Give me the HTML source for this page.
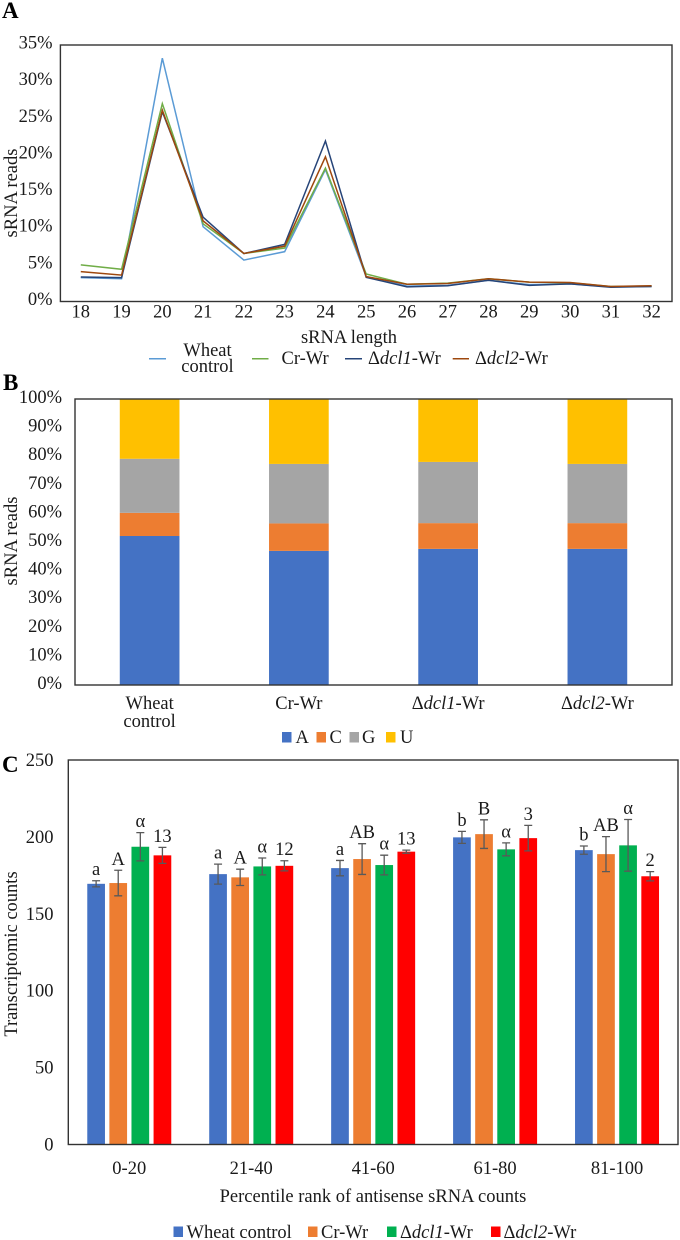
<!DOCTYPE html>
<html lang="en">
<head>
<meta charset="utf-8">
<title>sRNA charts</title>
<style>
html,body{margin:0;padding:0;background:#fff;}
body{width:680px;height:1240px;overflow:hidden;}
svg{display:block;}
text{font-family:"Liberation Serif","DejaVu Serif",serif;font-size:18.5px;fill:#1a1a1a;}
.panel{font-size:23px;font-weight:bold;fill:#000;}
.frame{fill:none;stroke:#333;stroke-width:1.4;}
</style>
</head>
<body>
<svg id="fig" xmlns="http://www.w3.org/2000/svg" width="680" height="1240" viewBox="0 0 680 1240">
  <rect x="0" y="0" width="680" height="1240" fill="#fff"/>

  <text class="panel" x="2" y="18">A</text>
  <text class="panel" x="3" y="390">B</text>
  <text class="panel" x="2" y="772">C</text>

  <g id="chartA"></g>
  <g id="chartB"></g>
  <g id="chartC"></g>

  <text x="349" y="343" text-anchor="middle">sRNA length</text>
  <text transform="translate(17,193) rotate(-90)" text-anchor="middle">sRNA reads</text>

  <g>
    <g>
      <line x1="149" y1="358.7" x2="166" y2="358.7" stroke="#5B9BD5" stroke-width="1.5"/>
      <text x="207.5" y="356" text-anchor="middle">Wheat</text>
      <text x="207.5" y="372" text-anchor="middle">control</text>
    </g>
    <g>
      <line x1="252" y1="358.7" x2="268.5" y2="358.7" stroke="#70AD47" stroke-width="1.5"/>
      <text x="281.5" y="364">Cr-Wr</text>
    </g>
    <g>
      <line x1="345" y1="358.7" x2="362" y2="358.7" stroke="#264478" stroke-width="1.5"/>
      <text x="368" y="364">Δ<tspan font-style="italic">dcl1</tspan>-Wr</text>
    </g>
    <g>
      <line x1="452.7" y1="358.7" x2="469" y2="358.7" stroke="#9E480E" stroke-width="1.5"/>
      <text x="475" y="364">Δ<tspan font-style="italic">dcl2</tspan>-Wr</text>
    </g>
  </g>

  <text transform="translate(17,541) rotate(-90)" text-anchor="middle">sRNA reads</text>

  <g>
    <rect x="282" y="732" width="9.5" height="10.5" fill="#4472C4"/>
    <text x="295.5" y="743">A</text>
    <rect x="316.5" y="732" width="9.5" height="10.5" fill="#ED7D31"/>
    <text x="329.5" y="743">C</text>
    <rect x="349.5" y="732" width="9.5" height="10.5" fill="#A5A5A5"/>
    <text x="362" y="743">G</text>
    <rect x="386" y="732" width="9.5" height="10.5" fill="#FFC000"/>
    <text x="400" y="743">U</text>
  </g>

  <text transform="translate(17,954) rotate(-90)" text-anchor="middle">Transcriptomic counts</text>
  <text x="373" y="1202" text-anchor="middle">Percentile rank of antisense sRNA counts</text>

  <g>
    <rect x="173.5" y="1226.5" width="9.5" height="10.5" fill="#4472C4"/>
    <text x="186.5" y="1238">Wheat control</text>
    <rect x="308" y="1226.5" width="9.5" height="10.5" fill="#ED7D31"/>
    <text x="321" y="1238">Cr-Wr</text>
    <rect x="387" y="1226.5" width="9.5" height="10.5" fill="#00B050"/>
    <text x="400" y="1238">Δ<tspan font-style="italic">dcl1</tspan>-Wr</text>
    <rect x="491" y="1226.5" width="9.5" height="10.5" fill="#FF0000"/>
    <text x="503.5" y="1238">Δ<tspan font-style="italic">dcl2</tspan>-Wr</text>
  </g>
</svg>

<script>
// ---- Chart A data ----
const lengths = ['18','19','20','21','22','23','24','25','26','27','28','29','30','31','32'];
const aTicks = [0,5,10,15,20,25,30,35];
const aWheat = [3.25,3.1,33.2,10.2,5.65,6.8,18.0,3.4,2.1,2.2,2.9,2.3,2.4,2.0,2.05];
const aCr    = [5.0,4.4,27.0,10.6,6.55,7.3,18.2,3.75,2.35,2.5,3.1,2.65,2.55,2.05,2.1];
const aDcl1  = [3.35,3.25,25.9,11.5,6.55,7.8,21.9,3.3,2.0,2.15,2.9,2.2,2.4,1.95,2.05];
const aDcl2  = [4.07,3.6,26.1,11.0,6.55,7.55,19.75,3.4,2.35,2.45,3.1,2.65,2.6,2.05,2.15];

// ---- Chart B data ----
const bCategories = ['Wheat control','Cr-Wr','Δdcl1-Wr','Δdcl2-Wr'];
const bTicks = [0,10,20,30,40,50,60,70,80,90,100];
const bA = [52.1,46.9,47.6,47.6];
const bC = [8.1,9.6,9.0,9.0];
const bG = [18.9,20.8,21.4,20.7];
const bU = [20.9,22.7,22.0,22.7];

// ---- Chart C data ----
const cCategories = ['0-20','21-40','41-60','61-80','81-100'];
const cTicks = [0,50,100,150,200,250];
const cWheat = [169.5,175.8,179.7,199.7,191.4];
const cCr    = [170,173.7,185.6,201.8,188.8];
const cDcl1  = [193.6,180.8,181.7,191.9,194.5];
const cDcl2  = [188,181.2,190.4,199.2,174.4];
const cWheatErr = [2,6.5,5,3.9,2.7];
const cCrErr    = [8.3,5.3,10,9.3,11.4];
const cDcl1Err  = [9.2,5.5,6.4,4.2,16.8];
const cDcl2Err  = [5.2,3.3,1,8.3,3];
const cWheatSig = ['a','a','a','b','b'];
const cCrSig    = ['A','A','AB','B','AB'];
const cDcl1Sig  = ['α','α','α','α','α'];
const cDcl2Sig  = ['13','12','13','3','2'];

const NS = 'http://www.w3.org/2000/svg';
function make(parent, tag, attrs, txt) {
  const el = document.createElementNS(NS, tag);
  for (const k in attrs) el.setAttribute(k, attrs[k]);
  if (txt !== undefined) el.textContent = txt;
  parent.appendChild(el);
  return el;
}
function slug(s) {
  return String(s).toLowerCase().replace(/[^a-z0-9]+/g, '-').replace(/^-|-$/g, '');
}

// ---------- Chart A ----------
(function () {
  const g = document.getElementById('chartA');
  const L = 60.4, R = 672, T = 45, B = 301.5;
  const x = i => L + (R - L) * (i + 0.5) / lengths.length;
  const y = v => B - (B - T) * v / 35;

  const frame = make(g, 'rect', {x: L, y: T, width: R - L, height: B - T, class: 'frame'});
  
  

  aTicks.forEach(t => {
    const el = make(g, 'text', {x: 52.5, y: y(t) + 3.5, 'text-anchor': 'end'}, t + '%');
    
    
  });
  lengths.forEach((c, i) => {
    const el = make(g, 'text', {x: x(i), y: 317.5, 'text-anchor': 'middle'}, c);
    
    
  });

  const series = [
    ['wheat-control', aWheat, '#5B9BD5'],
    ['cr-wr', aCr, '#70AD47'],
    ['dcl1-wr', aDcl1, '#264478'],
    ['dcl2-wr', aDcl2, '#9E480E']
  ];
  series.forEach(s => {
    const pts = s[1].map((v, i) => x(i).toFixed(2) + ',' + y(v).toFixed(2)).join(' ');
    const el = make(g, 'polyline', {points: pts, fill: 'none', stroke: s[2], 'stroke-width': 1.5, 'stroke-linejoin': 'miter'});
    
    
  });
})();

// ---------- Chart B ----------
(function () {
  const g = document.getElementById('chartB');
  const L = 75, R = 672, T = 399, B = 685;
  const band = (R - L) / bCategories.length;
  const bw = band / 2.5;
  const cx = i => L + band * (i + 0.5);
  const y = v => B - (B - T) * v / 100;

  bTicks.forEach(t => {
    const el = make(g, 'text', {x: 62, y: y(t) + 4, 'text-anchor': 'end'}, t + '%');
    
    
  });

  const stacks = [['a', bA, '#4472C4'], ['c', bC, '#ED7D31'], ['g', bG, '#A5A5A5'], ['u', bU, '#FFC000']];
  bCategories.forEach((c, i) => {
    let acc = 0;
    stacks.forEach(s => {
      const v = s[1][i];
      const r = make(g, 'rect', {x: cx(i) - bw / 2, y: y(acc + v), width: bw, height: y(acc) - y(acc + v), fill: s[2]});
      
      
      acc += v;
    });
    const m = c.match(/^(Δ)(dcl\d)(-Wr)$/);
    if (m) {
      const t = make(g, 'text', {x: cx(i), y: 709, 'text-anchor': 'middle'});
      
      
      t.appendChild(document.createTextNode(m[1]));
      make(t, 'tspan', {'font-style': 'italic'}, m[2]);
      t.appendChild(document.createTextNode(m[3]));
    } else if (c.indexOf(' ') > 0) {
      c.split(' ').forEach((w, k) => {
        const t = make(g, 'text', {x: cx(i), y: 709 + k * 18, 'text-anchor': 'middle'}, w);
        
        
      });
    } else {
      const t = make(g, 'text', {x: cx(i), y: 709, 'text-anchor': 'middle'}, c);
      
      
    }
  });

  const frame = make(g, 'rect', {x: L, y: T, width: R - L, height: B - T, class: 'frame'});
  
  
})();

// ---------- Chart C ----------
(function () {
  const g = document.getElementById('chartC');
  const L = 68.3, R = 678, T = 760, B = 1144.5;
  const band = (R - L) / cCategories.length;
  const bw = 17.7, step = 22.1;
  const cx = i => L + band * (i + 0.5);
  const y = v => B - (B - T) * v / 250;

  cTicks.forEach(t => {
    const el = make(g, 'text', {x: 53.5, y: y(t) + 6, 'text-anchor': 'end'}, t);
    
    
  });

  const series = [
    ['wheat-control', cWheat, cWheatErr, cWheatSig, '#4472C4'],
    ['cr-wr', cCr, cCrErr, cCrSig, '#ED7D31'],
    ['dcl1-wr', cDcl1, cDcl1Err, cDcl1Sig, '#00B050'],
    ['dcl2-wr', cDcl2, cDcl2Err, cDcl2Sig, '#FF0000']
  ];
  cCategories.forEach((c, i) => {
    series.forEach((s, k) => {
      const xm = cx(i) + (k - 1.5) * step;
      const v = s[1][i], e = s[2][i];
      const r = make(g, 'rect', {x: xm - bw / 2, y: y(v), width: bw, height: B - y(v), fill: s[4]});
      
      

      const eb = make(g, 'path', {
        d: 'M' + xm + ' ' + y(v + e) + 'V' + y(v - e) +
           'M' + (xm - 4) + ' ' + y(v + e) + 'H' + (xm + 4) +
           'M' + (xm - 4) + ' ' + y(v - e) + 'H' + (xm + 4),
        fill: 'none', stroke: '#595959', 'stroke-width': 1.3
      });
      
      

      const lab = make(g, 'text', {x: xm, y: y(v + e) - 5.5, 'text-anchor': 'middle', style: 'font-size:18.5px'}, s[3][i]);
      
      
    });
    const t = make(g, 'text', {x: cx(i), y: 1174, 'text-anchor': 'middle'}, c);
    
    
  });

  const frame = make(g, 'rect', {x: L, y: T, width: R - L, height: B - T, class: 'frame'});
  
  
})();
</script>
</body>
</html>
